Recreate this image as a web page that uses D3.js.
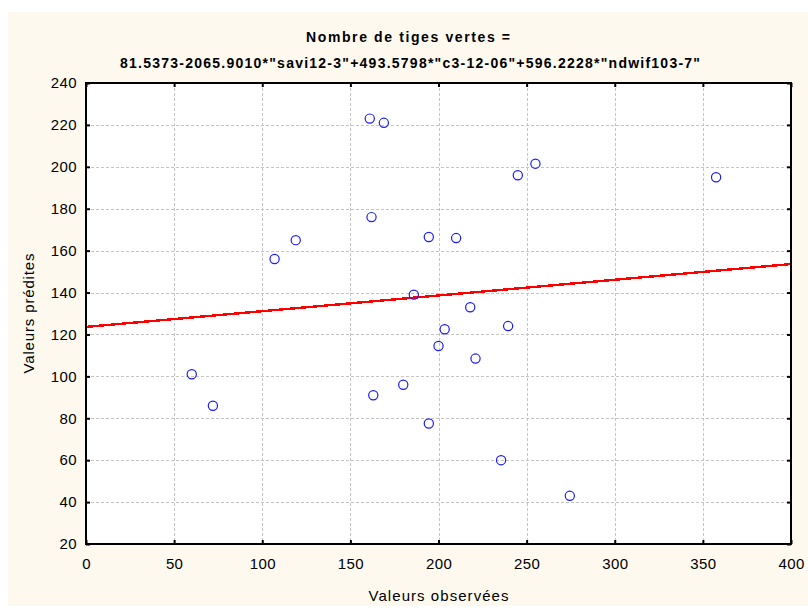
<!DOCTYPE html>
<html><head><meta charset="utf-8">
<script src="https://cdn.jsdelivr.net/npm/d3@7"></script>
<style>
html,body{margin:0;padding:0;background:#fff;}
svg{display:block;font-family:Arial,"Liberation Sans",sans-serif;}
</style></head>
<body>
<script>
const titleLines = ["Nombre de tiges vertes =",
  "81.5373-2065.9010*\"savi12-3\"+493.5798*\"c3-12-06\"+596.2228*\"ndwif103-7\""];
const xLabel = "Valeurs observées";
const yLabel = "Valeurs prédites";
const observed = [60,72,107,119,161,169,162,163,180,186,194.5,194.5,200,203.5,210,218,221,235.5,239.5,245,255,274.5,357.5];
const predicted = [101,86,156,165,223,221,176,91,96,139,166.5,77.5,114.5,122.5,166,133,108.5,60,124,196,201.5,43,195];
const fitX = [0,400];
const fitY = [123.6,153.6];
const xTicks = [0,50,100,150,200,250,300,350,400];
const yTicks = [20,40,60,80,100,120,140,160,180,200,220,240];

const W=808,H=608;
const m={l:86,r:791,t:83,b:544};
const svg=d3.select("body").append("svg").attr("width",W).attr("height",H);
svg.append("rect").attr("x",8).attr("y",12).attr("width",W-8).attr("height",594).attr("fill","#fdf9ef");

const x=d3.scaleLinear().domain([0,400]).range([m.l,m.r]);
const y=d3.scaleLinear().domain([20,240]).range([m.b,m.t]);

svg.append("rect").attr("x",m.l).attr("y",m.t).attr("width",m.r-m.l).attr("height",m.b-m.t).attr("fill","#fff");

// grid
const g=svg.append("g").attr("stroke","#c4c4c4").attr("stroke-dasharray","3,2").attr("stroke-width",1).attr("shape-rendering","crispEdges");
g.selectAll(".gx").data(xTicks.slice(1,-1)).join("line")
  .attr("x1",d=>Math.round(x(d))+0.5).attr("x2",d=>Math.round(x(d))+0.5).attr("y1",m.t).attr("y2",m.b);
g.selectAll(".gy").data(yTicks.slice(1,-1)).join("line")
  .attr("y1",d=>Math.round(y(d))+0.5).attr("y2",d=>Math.round(y(d))+0.5).attr("x1",m.l).attr("x2",m.r);

// axes
const axB=d3.axisBottom(x).tickValues(xTicks).tickSize(-4).tickPadding(14);
const axL=d3.axisLeft(y).tickValues(yTicks).tickSize(-4).tickPadding(9);
const axT=d3.axisTop(x).tickValues(xTicks).tickSize(-4).tickFormat("");
const axR=d3.axisRight(y).tickValues(yTicks).tickSize(-4).tickFormat("");
function style(sel){
  sel.select(".domain").remove();
  sel.selectAll(".tick line").attr("stroke","#000").attr("stroke-width",2);
  sel.selectAll(".tick text").attr("fill","#000").attr("font-size",15).attr("letter-spacing",0.4);
}
svg.append("g").attr("transform",`translate(0,${m.b})`).call(axB).call(style);
svg.append("g").attr("transform",`translate(${m.l},0)`).call(axL).call(style);
svg.append("g").attr("transform",`translate(0,${m.t})`).call(axT).call(style);
svg.append("g").attr("transform",`translate(${m.r},0)`).call(axR).call(style);

// fit line
svg.append("path").datum(fitX.map((d,i)=>[d,fitY[i]]))
  .attr("d",d3.line().x(d=>x(d[0])).y(d=>y(d[1])))
  .attr("stroke","#ff0000").attr("stroke-width",2.4).attr("fill","none")
  .attr("shape-rendering","crispEdges");

// points
svg.append("g").selectAll("circle").data(observed.map((d,i)=>[d,predicted[i]])).join("circle")
  .attr("cx",d=>x(d[0])).attr("cy",d=>y(d[1])).attr("r",4.6)
  .attr("fill","none").attr("stroke","#1a1aff").attr("stroke-width",1.2);

// frame
svg.append("rect").attr("x",m.l).attr("y",m.t).attr("width",m.r-m.l).attr("height",m.b-m.t)
  .attr("fill","none").attr("stroke","#000").attr("stroke-width",2);

// titles
svg.append("text").attr("x",408).attr("y",42).attr("text-anchor","middle").attr("font-weight","bold")
  .attr("font-size",14).attr("textLength",204).attr("lengthAdjust","spacing").text(titleLines[0]);
svg.append("text").attr("x",410).attr("y",68).attr("text-anchor","middle").attr("font-weight","bold")
  .attr("font-size",14).attr("textLength",580).attr("lengthAdjust","spacing").text(titleLines[1]);
svg.append("text").attr("x",(m.l+m.r)/2).attr("y",601).attr("text-anchor","middle")
  .attr("font-size",15).attr("textLength",140).attr("lengthAdjust","spacing").text(xLabel);
svg.append("text").attr("transform",`translate(34,${(m.t+m.b)/2}) rotate(-90)`).attr("text-anchor","middle")
  .attr("font-size",15).attr("textLength",120).attr("lengthAdjust","spacing").text(yLabel);
</script>
</body></html>
